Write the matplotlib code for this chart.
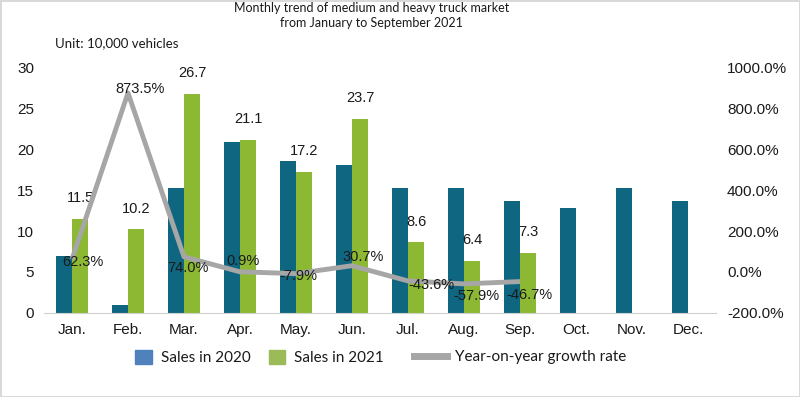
import numpy as np
import matplotlib.pyplot as plt
from matplotlib.patches import Patch
from matplotlib.lines import Line2D

months = ["Jan.", "Feb.", "Mar.", "Apr.", "May.", "Jun.", "Jul.", "Aug.", "Sep.", "Oct.", "Nov.", "Dec."]
sales_2020 = [7.0, 1.0, 15.2, 20.8, 18.5, 18.0, 15.2, 15.2, 13.7, 12.8, 15.2, 13.6]
sales_2021 = [11.5, 10.2, 26.7, 21.1, 17.2, 23.7, 8.6, 6.4, 7.3]
growth = [62.3, 873.5, 74.0, 0.9, -7.9, 30.7, -43.6, -57.9, -46.7]

# label nudges (points) for the growth labels, as placed in the original
pct_off = [(8, -2), (9, 3), (3, -8), (2, 8), (2, -2), (8, 6), (17, -3), (9, -9), (7, -10)]

teal = "#0f6680"
green = "#8cb833"
grey = "#a6a6a6"
txt = "#1a1a1a"
num_font = "Liberation Sans"
lab_font = "Lato"

fig = plt.figure(figsize=(8, 3.97), dpi=100)
fig.patch.set_edgecolor("#d9d9d9")
fig.patch.set_linewidth(2)
ax = fig.add_axes([0.055, 0.2116, 0.84, 0.6196])
ax2 = ax.twinx()

x = np.arange(len(months))
w = 0.286
ax.bar(x - w / 2, sales_2020, w, color=teal)
x21 = x[:len(sales_2021)]
ax.bar(x21 + w / 2, sales_2021, w, color=green)
for xi, v in zip(x21, sales_2021):
    ax.annotate(f"{v:.1f}", (xi + w / 2, v), xytext=(0, 15), textcoords="offset points",
                ha="center", va="center", fontsize=10.5, family=num_font, color=txt)

xg = x[:len(growth)]
ax2.plot(xg, growth, color=grey, lw=3.5, solid_joinstyle="round", solid_capstyle="butt", zorder=3)
for xi, v, (dx, dy) in zip(xg, growth, pct_off):
    ax2.annotate(f"{v:.1f}%", (xi, v), xytext=(dx, dy), textcoords="offset points",
                 ha="center", va="center", fontsize=10.5, family=num_font, color=txt, zorder=4)

ax.set_xlim(-0.5, len(months) - 0.5)
ax.set_ylim(0, 30)
ax.set_yticks([0, 5, 10, 15, 20, 25, 30])
ax2.set_ylim(-200, 1000)
ax2.set_yticks(np.arange(-200, 1001, 200))
ax2.set_yticklabels([f"{t:.1f}%" for t in np.arange(-200, 1001, 200)])
ax.set_xticks(x)
ax.set_xticklabels(months)

for a in (ax, ax2):
    for s in a.spines.values():
        s.set_visible(False)
    a.tick_params(length=0, labelsize=11, labelcolor=txt)
    for lab in a.get_xticklabels() + a.get_yticklabels():
        lab.set_family(num_font)
ax.spines["bottom"].set_visible(True)
ax.spines["bottom"].set_color("#d0d0d0")
ax.tick_params(axis="y", pad=7)
ax.tick_params(axis="x", pad=7)
ax2.tick_params(axis="y", pad=8)

fig.text(0.464, 0.962, "Monthly trend of medium and heavy truck market\nfrom January to September 2021",
         ha="center", va="center", fontsize=9, family=lab_font, color=txt, linespacing=1.3)
fig.text(0.069, 0.892, "Unit: 10,000 vehicles", ha="left", va="center", fontsize=9.5,
         family=lab_font, color=txt)

h1 = [Patch(color="#4f81bd"), Patch(color="#9bbb59")]
leg1 = fig.legend(h1, ["Sales in 2020", "Sales in 2021"], loc="center left",
                  bbox_to_anchor=(0.152, 0.1), ncol=2, frameon=False,
                  handlelength=1.1, handleheight=1.1, handletextpad=0.55, columnspacing=1.2,
                  prop={"family": lab_font, "size": 11})
h2 = [Line2D([0], [0], color=grey, lw=5)]
leg2 = fig.legend(h2, ["Year-on-year growth rate"], loc="center left",
                  bbox_to_anchor=(0.5, 0.1), frameon=False,
                  handlelength=2.2, handletextpad=0.5,
                  prop={"family": lab_font, "size": 11})
for t in leg1.get_texts() + leg2.get_texts():
    t.set_color(txt)

fig.savefig("out.png", dpi=100)
